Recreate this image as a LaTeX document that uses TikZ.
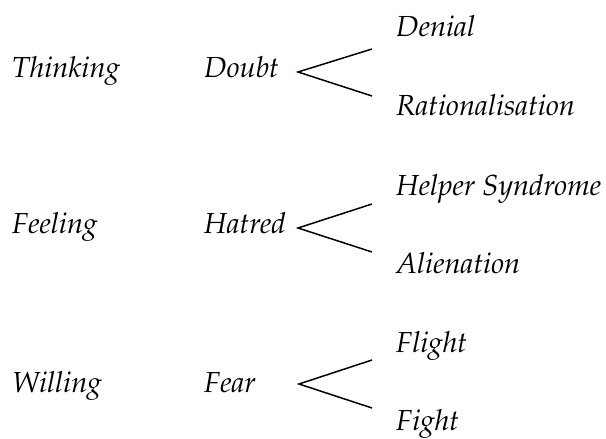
\documentclass[tikz,border=0pt]{standalone}
\usepackage[T1]{fontenc}
\usepackage{mathpazo}
\begin{document}
\begin{tikzpicture}[x=1pt,y=-1pt,
  lbl/.style={anchor=base west,inner sep=0pt,font=\fontsize{29}{35}\selectfont\itshape},
  branch/.style={line width=1.5pt}]
\useasboundingbox (0,0) rectangle (606,439);
% row 1
\node[lbl] (thinking) at (12,77) {Thinking};
\node[lbl] (doubt) at (204,77) {Doubt};
\node[lbl] (denial) at (396,36) {Denial};
\node[lbl] (rational) at (396,115) {Rationalisation};
\coordinate (v1) at (298,72);
\coordinate (u1) at (372,49);
\coordinate (l1) at (372,96);
\draw[branch] (u1) -- (v1) -- (l1);
% row 2
\node[lbl] (feeling) at (12,233) {Feeling};
\node[lbl] (hatred) at (204,233) {Hatred};
\node[lbl] (helper) at (396,195) {Helper Syndrome};
\node[lbl] (alien) at (396,273) {Alienation};
\coordinate (v2) at (298,228);
\coordinate (u2) at (372,204);
\coordinate (l2) at (372,252);
\draw[branch] (u2) -- (v2) -- (l2);
% row 3
\node[lbl] (willing) at (12,392) {Willing};
\node[lbl] (fear) at (204,392) {Fear};
\node[lbl] (flight) at (396,352) {Flight};
\node[lbl] (fight) at (396,430) {Fight};
\coordinate (v3) at (299,384);
\coordinate (u3) at (372,360);
\coordinate (l3) at (372,408);
\draw[branch] (u3) -- (v3) -- (l3);
\end{tikzpicture}
\end{document}
